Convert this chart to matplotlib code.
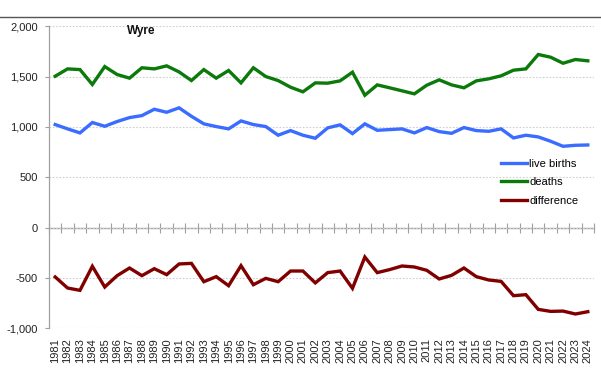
import matplotlib
matplotlib.use("Agg")

import numpy as np
import matplotlib.pyplot as plt
from matplotlib.lines import Line2D
from matplotlib.ticker import FuncFormatter

plt.rcParams["font.family"] = ["Liberation Sans", "DejaVu Sans"]

# ── data ─────────────────────────────────────────────────────────────────────
years = list(range(1981, 2025))

live_births = [1024, 981, 941, 1044, 1007, 1054, 1093, 1113, 1176, 1146,
               1190, 1106, 1031, 1004, 981, 1060, 1024, 1004, 918, 964,
               918, 888, 991, 1021, 934, 1031, 967, 974, 981, 941,
               994, 954, 937, 994, 964, 957, 981, 891, 918, 901,
               858, 808, 818, 821]

deaths = [1504, 1577, 1570, 1422, 1600, 1521, 1485, 1588, 1577, 1607,
          1547, 1461, 1570, 1485, 1561, 1438, 1588, 1501, 1461, 1395,
          1349, 1438, 1435, 1458, 1544, 1315, 1418, 1389, 1359, 1329,
          1415, 1468, 1418, 1389, 1458, 1478, 1508, 1564, 1577, 1720,
          1693, 1633, 1670, 1657]

difference = [-490, -600, -623, -384, -590, -477, -401, -477, -408, -467,
              -361, -355, -537, -487, -577, -378, -567, -504, -537, -431,
              -431, -549, -447, -431, -603, -292, -447, -417, -381, -391,
              -424, -510, -474, -401, -487, -520, -534, -676, -666, -812,
              -832, -829, -858, -835]

series = [("live births", live_births, "#3a6cff"),
          ("deaths", deaths, "#0b7a0b"),
          ("difference", difference, "#800000")]

# ── figure ───────────────────────────────────────────────────────────────────
W, H = 601, 386
fig = plt.figure(figsize=(W / 100, H / 100), dpi=100)
ax = fig.add_axes([49 / W, 1 - 328.3 / H, (594 - 49) / W, (328.3 - 26.3) / H])

x = np.arange(len(years))
for name, vals, col in series:
    ax.plot(x, vals, color=col, lw=2.4, label=name, solid_joinstyle="miter")

ax.set_xlim(-0.5, len(years) - 0.5)
ax.set_ylim(-1000, 2000)
ax.set_yticks(np.arange(-1000, 2001, 500))
ax.yaxis.set_major_formatter(FuncFormatter(lambda v, p: f"{int(v):,}"))
ax.tick_params(axis="y", length=3, width=0.8, color="#a0a0a0", pad=5,
               labelsize=8, labelcolor="#222222")

ax.set_xticks(x)
ax.set_xticklabels([str(y) for y in years], rotation=90)
ax.tick_params(axis="x", length=0, pad=7, labelsize=8, labelcolor="#222222")

for s in ["top", "right", "bottom"]:
    ax.spines[s].set_visible(False)
ax.spines["left"].set_color("#a0a0a0")
ax.spines["left"].set_linewidth(0.9)

ax.grid(axis="y", linestyle=(0, (1.5, 1.5)), color="#cfcfcf", lw=0.8)
ax.set_axisbelow(True)

# zero line with category tick marks
zero = ax.secondary_xaxis(1 / 3)
zero.set_xticks(np.arange(-0.5, len(years), 1.0))
zero.set_xticklabels([])
zero.tick_params(direction="inout", length=7, width=0.8, color="#a0a0a0")
zero.spines["bottom"].set_color("#a0a0a0")
zero.spines["bottom"].set_linewidth(1.0)

ax.text(0.169, 0.986, "Wyre", transform=ax.transAxes, ha="center", va="center",
        fontsize=8.5, fontweight="bold", color="#111111")

ax.legend(loc="upper left", bbox_to_anchor=(501 / W, 1 - 159 / H),
          bbox_transform=fig.transFigure, frameon=False, fontsize=8,
          handlelength=2.3, handletextpad=0.25, labelspacing=0.75,
          borderpad=0, borderaxespad=0)

# top border line
fig.add_artist(Line2D([0, 1], [1 - 17 / H, 1 - 17 / H], transform=fig.transFigure,
                      color="#555555", lw=1.0))

fig.savefig("out.png", dpi=100)
